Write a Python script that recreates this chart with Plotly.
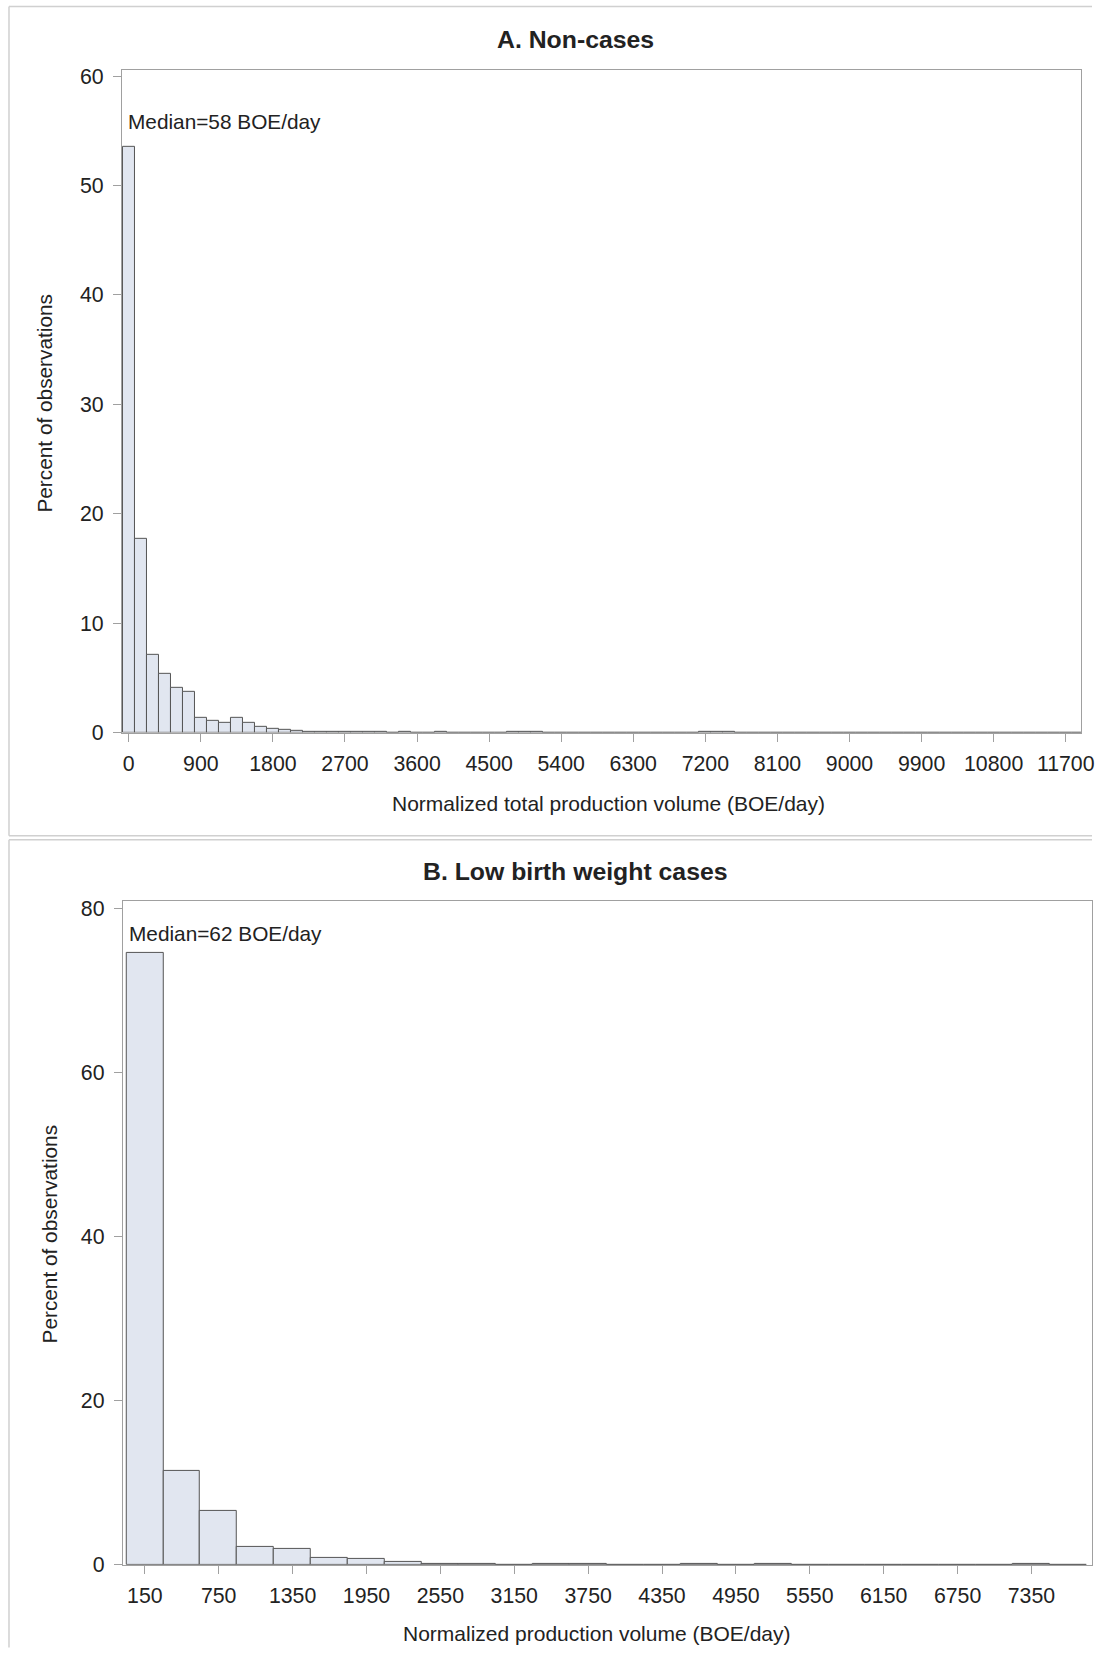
import plotly.graph_objects as go

# ---------------- data ----------------
# Panel A: Non-cases, bins of 150 BOE/day, midpoints starting at 0
a_bin_width = 150
a_first_mid = 0
a_percent = [
    53.5, 17.7, 7.1, 5.4, 4.1, 3.7, 1.3, 1.05, 0.85, 1.3,
    0.9, 0.5, 0.35, 0.25, 0.15, 0.08, 0.06, 0.04, 0.03, 0.02,
    0.02, 0.02, 0.01, 0.02, 0.01, 0.01, 0.02, 0.01, 0.01, 0.01,
    0.01, 0.01, 0.02, 0.02, 0.02, 0.01, 0.01, 0.01, 0.01, 0.01,
    0.01, 0.01, 0.01, 0.01, 0.01, 0.01, 0.01, 0.01, 0.02, 0.02,
    0.02, 0.01, 0.01, 0.01, 0.01, 0.01, 0.01, 0.01, 0.01, 0.01,
    0.01, 0.01, 0.01, 0.01, 0.01, 0.01, 0.01, 0.01, 0.01, 0.01,
    0.01, 0.01, 0.01, 0.01, 0.01, 0.01, 0.01, 0.01, 0.01, 0.01,
]
a_mids = [a_first_mid + i * a_bin_width for i in range(len(a_percent))]
a_ticks = [0, 900, 1800, 2700, 3600, 4500, 5400, 6300, 7200, 8100, 9000, 9900, 10800, 11700]
a_yticks = [0, 10, 20, 30, 40, 50, 60]
a_title = "A. Non-cases"
a_xlabel = "Normalized total production volume (BOE/day)"
a_median = "Median=58 BOE/day"

# Panel B: Low birth weight cases, bins of 300 BOE/day, midpoints starting at 150
b_bin_width = 300
b_first_mid = 150
b_percent = [
    74.6, 11.5, 6.6, 2.15, 1.95, 0.9, 0.7, 0.3, 0.1, 0.1,
    0.0, 0.1, 0.1, 0.0, 0.0, 0.1, 0.0, 0.1, 0.0, 0.0,
    0.0, 0.0, 0.0, 0.0, 0.1, 0.0,
]
b_mids = [b_first_mid + i * b_bin_width for i in range(len(b_percent))]
b_ticks = [150, 750, 1350, 1950, 2550, 3150, 3750, 4350, 4950, 5550, 6150, 6750, 7350]
b_yticks = [0, 20, 40, 60, 80]
b_title = "B. Low birth weight cases"
b_xlabel = "Normalized production volume (BOE/day)"
b_median = "Median=62 BOE/day"

ylabel = "Percent of observations"

# ---------------- layout helpers ----------------
# Target positions are given in picture pixels; the photographed page maps
# page px -> picture px as  pic = S * page + T  (measured), so invert it.
W, H = 1107, 1660
SX, TX = 0.9876, -0.5
SY, TY = 0.9893, 5.1
PAGE_MAX_X = 1106.0

def page_x(r):
    return (r - TX) / SX
def page_y(r):
    return (r - TY) / SY
def fx(r):
    return min(page_x(r), PAGE_MAX_X) / W
def fy(r):
    return 1 - min(page_y(r), H - 0.5) / H

def clipped_range(r_lo, r_hi, v_lo, v_hi):
    """Axis range when the right edge must be pulled inside the page."""
    p_lo, p_hi = page_x(r_lo), page_x(r_hi)
    p_cl = min(p_hi, PAGE_MAX_X)
    return [v_lo, v_lo + (v_hi - v_lo) * (p_cl - p_lo) / (p_hi - p_lo)]

FONT = "Arial, Liberation Sans, sans-serif"
TXT = "#222222"
FILL = "#E1E6F0"
EDGE = "#555555"
FRAME = "#A0A0A0"
PANEL = "#D0D0D0"

fig = go.Figure()
fig.add_trace(go.Bar(x=a_mids, y=a_percent, width=a_bin_width,
                     marker=dict(color=FILL, line=dict(color=EDGE, width=1)),
                     xaxis="x", yaxis="y", showlegend=False, hoverinfo="x+y"))
fig.add_trace(go.Bar(x=b_mids, y=b_percent, width=b_bin_width,
                     marker=dict(color=FILL, line=dict(color=EDGE, width=1)),
                     xaxis="x2", yaxis="y2", showlegend=False, hoverinfo="x+y"))

axis_common = dict(showgrid=False, zeroline=False, showline=True, mirror=True,
                   linecolor=FRAME, linewidth=1, ticks="outside", ticklen=8,
                   tickcolor=FRAME, tickwidth=1,
                   tickfont=dict(family=FONT, size=21.3, color=TXT))
xstand = 4
ystand = 5

fig.update_layout(
    width=W, height=H,
    margin=dict(l=0, r=0, t=0, b=0),
    paper_bgcolor="white", plot_bgcolor="white",
    bargap=0,
    xaxis=dict(domain=[fx(121.5), fx(1080.7)],
               range=clipped_range(121.5, 1080.7, -85, 11890),
               tickvals=a_ticks, ticktext=[str(t) for t in a_ticks],
               ticklabeloverflow="allow",
               ticklabelstandoff=xstand, anchor="y", **axis_common),
    yaxis=dict(domain=[fy(732.3), fy(69.9)], range=[0, 60.57],
               tickvals=a_yticks, ticktext=[str(t) for t in a_yticks],
               ticklabelstandoff=ystand, anchor="x", **axis_common),
    xaxis2=dict(domain=[fx(122.3), fx(1096.5)],
                range=clipped_range(122.3, 1096.5, -29, 7880),
                tickvals=b_ticks, ticktext=[str(t) for t in b_ticks],
                ticklabeloverflow="allow",
                ticklabelstandoff=xstand, anchor="y2", **axis_common),
    yaxis2=dict(domain=[fy(1564.2), fy(900.6)], range=[0, 80.9],
                tickvals=b_yticks, ticktext=[str(t) for t in b_yticks],
                ticklabelstandoff=ystand, anchor="x2", **axis_common),
)

# panel frames
def pline(x0, y0, x1, y1):
    fig.add_shape(type="line", xref="paper", yref="paper",
                  x0=fx(x0), y0=fy(y0), x1=fx(x1), y1=fy(y1),
                  line=dict(color=PANEL, width=1.5), layer="below")

pline(8.5, 6.5, 1107, 6.5)        # A top
pline(8.5, 6.5, 8.5, 835.5)       # A left
pline(8.5, 835.5, 1107, 835.5)    # A bottom
pline(8.5, 839.5, 1107, 839.5)    # B top
pline(8.5, 839.5, 8.5, 1660)      # B left

def text(s, x, y, size, bold=False, xanchor="center", angle=0):
    fig.add_annotation(text=("<b>%s</b>" % s) if bold else s,
                       x=fx(x), y=fy(y), xref="paper", yref="paper",
                       xanchor=xanchor, yanchor="middle", showarrow=False,
                       textangle=angle,
                       font=dict(family=FONT, size=size, color=TXT))

text(a_title, 575, 39.2, 24.8, bold=True)
text(b_title, 575, 871, 24.8, bold=True)
text(a_xlabel, 608.5, 803.3, 21)
text(b_xlabel, 596.4, 1633, 21)
text(ylabel, 44, 403, 20.8, angle=-90)
text(ylabel, 48.5, 1233, 20.8, angle=-90)
text(a_median, 125.8, 122, 20.8, xanchor="left")
text(b_median, 126.9, 933, 20.8, xanchor="left")

fig.write_html("out.html", config={"displayModeBar": False},
               post_script="document.body.style.margin='0px';")
